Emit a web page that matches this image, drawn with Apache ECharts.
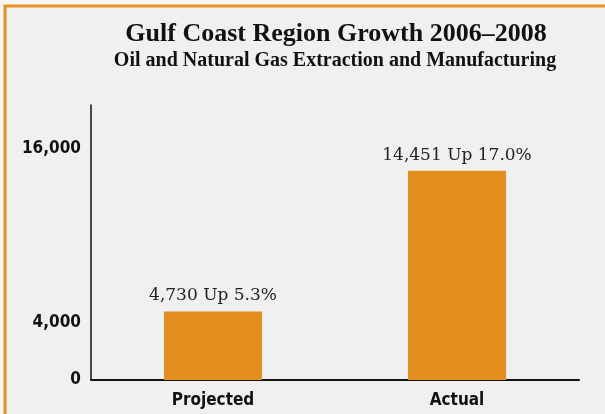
<!DOCTYPE html>
<html>
<head>
<meta charset="utf-8">
<script src="https://cdn.jsdelivr.net/npm/echarts@6/dist/echarts.min.js"></script>
<style>
html,body{margin:0;padding:0;background:#f6f6f6;}
#chart{width:605px;height:414px;}
</style>
</head>
<body>
<div id="chart"></div>
<script>
const titleText = 'Gulf Coast Region Growth 2006–2008';
const subtitleText = 'Oil and Natural Gas Extraction and Manufacturing';
const categories = ['Projected', 'Actual'];
const values = [4730, 14451];
const growthLabels = ['Up 5.3%', 'Up 17.0%'];
const yTickValues = [0, 4000, 16000];

const sansStack = "'Liberation Sans Narrow', 'DejaVu Sans Condensed', 'Liberation Sans', Arial, sans-serif";

const chart = echarts.init(document.getElementById('chart'));
chart.setOption({
  backgroundColor: '#f6f6f6',
  animation: false,
  graphic: [{
    type: 'rect', silent: true, z: -10,
    shape: {x: 5, y: 6, width: 700, height: 500},
    style: {fill: '#f0f0f0', stroke: '#E8901E', lineWidth: 3}
  }],
  title: [{
    text: titleText, left: 331, top: 16, textAlign: 'center',
    textStyle: {fontFamily: 'Liberation Serif', fontWeight: 'bold', fontSize: 26, color: '#111'}
  }, {
    text: subtitleText, left: 330, top: 46, textAlign: 'center',
    textStyle: {fontFamily: 'Liberation Serif', fontWeight: 'bold', fontSize: 20, color: '#111'}
  }],
  grid: {left: 91, right: 26, top: 105, bottom: 34, containLabel: false},
  xAxis: {
    type: 'category', data: categories,
    axisLine: {lineStyle: {color: '#111', width: 2}},
    axisTick: {show: false},
    axisLabel: {fontFamily: sansStack, fontWeight: 'bold', fontSize: 17, color: '#111', margin: 12}
  },
  yAxis: {
    type: 'value', min: 0, max: 19000,
    axisLine: {show: true, lineStyle: {color: '#111', width: 1.5}},
    axisTick: {show: false},
    splitLine: {show: false},
    axisLabel: {
      customValues: yTickValues,
      fontFamily: sansStack, fontWeight: 'bold', fontSize: 17, color: '#111', margin: 10,
      formatter: v => v.toLocaleString('en-US')
    }
  },
  series: [{
    type: 'bar', data: values, barWidth: 98,
    itemStyle: {color: '#E48E1D'},
    label: {
      show: true, position: 'top', distance: 7,
      fontFamily: 'DejaVu Serif', fontSize: 17, color: '#222',
      formatter: p => p.value.toLocaleString('en-US') + ' ' + growthLabels[p.dataIndex]
    }
  }]
});
</script>
</body>
</html>
